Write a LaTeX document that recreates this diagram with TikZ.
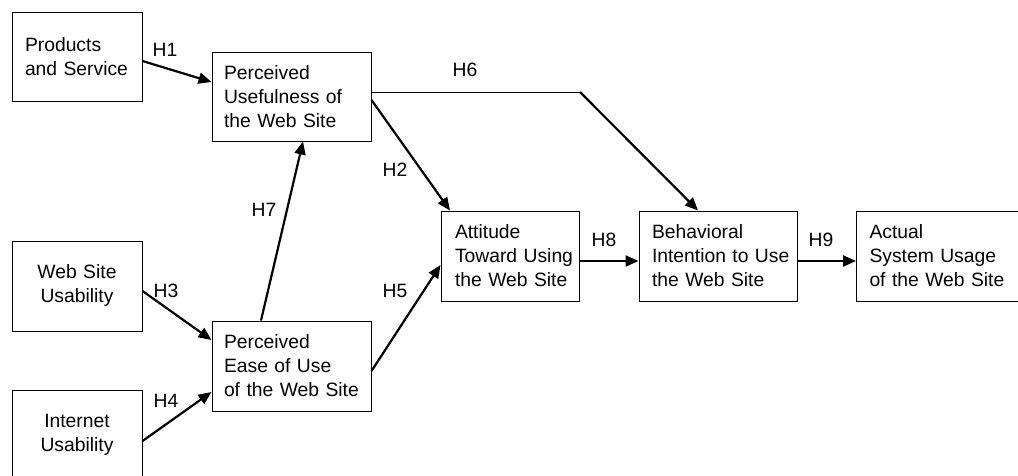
\documentclass[tikz,border=0pt]{standalone}
\usepackage{fontspec}
\setmainfont{Liberation Sans}
\usetikzlibrary{arrows.meta}
\tikzset{
  box/.style={draw, line width=1pt, rectangle, inner ysep=0pt,
    font=\fontsize{19.3}{24}\selectfont},
  lbox/.style={box, align=left},
  cbox/.style={box, align=center},
  arr/.style={line width=2.2pt, -{Triangle[length=13pt,width=11pt]}},
  thin/.style={line width=1pt},
  hlab/.style={font=\fontsize{19.3}{24}\selectfont, inner sep=0pt}
}
\begin{document}
\begin{tikzpicture}[x=1pt,y=-1pt]
\useasboundingbox (0,0) rectangle (1018,475);
\clip (0,0) rectangle (1018,475);
% boxes
\node[lbox, minimum width=130pt, minimum height=89pt, inner xsep=13pt, text width=104pt] (PS) at (77,56.5) {Products\\\mbox{and Service}};
\node[lbox, minimum width=159pt, minimum height=89pt, inner xsep=12pt, text width=135pt] (PU) at (291.5,96.5) {Perceived\\\mbox{Usefulness of}\\\mbox{the Web Site}};
\node[cbox, minimum width=130pt, minimum height=90pt, text width=110pt] (WSU) at (77,286) {Web Site\\Usability};
\node[cbox, minimum width=130pt, minimum height=90pt, text width=110pt] (IU) at (77,435) {Internet\\Usability};
\node[lbox, minimum width=159pt, minimum height=90pt, inner xsep=12pt, text width=135pt] (PEOU) at (291.5,366) {Perceived\\\mbox{Ease of Use}\\\mbox{of the Web Site}};
\node[lbox, minimum width=138pt, minimum height=90pt, inner xsep=14pt, text width=110pt] (ATT) at (510,256) {Attitude\\\mbox{Toward Using}\\\mbox{the Web Site}};
\node[lbox, minimum width=158pt, minimum height=90pt, inner xsep=13pt, text width=132pt] (BI) at (718,256) {Behavioral\\\mbox{Intention to Use}\\\mbox{the Web Site}};
\node[lbox, minimum width=174pt, minimum height=90pt, inner xsep=13pt, text width=148pt, anchor=west] (ASU) at (856,256) {Actual\\\mbox{System Usage}\\\mbox{of the Web Site}};
% connectors
\draw[arr] ([yshift=-4.5pt]PS.east) -- ([yshift=14.5pt]PU.west);
\coordinate (bend) at (580,92);
\draw[thin] ([yshift=4.5pt]PU.east) -- (bend);
\draw[arr] (bend) -- ([xshift=-20pt]BI.north);
\draw[arr] ([yshift=-3.5pt]PU.east) -- ([xshift=-60pt]ATT.north);
\draw[arr] ([xshift=-30.5pt]PEOU.north) -- ([xshift=11.5pt]PU.south);
\draw[arr] ([yshift=-5pt]WSU.east) -- ([yshift=26pt]PEOU.west);
\draw[arr] ([yshift=-6pt]IU.east) -- ([yshift=-26pt]PEOU.west);
\draw[arr] ([yshift=-5pt]PEOU.east) -- ([yshift=-9pt]ATT.west);
\draw[arr] ([yshift=-5pt]ATT.east) -- ([yshift=-5pt]BI.west);
\draw[arr] ([yshift=-5pt]BI.east) -- ([yshift=-5pt]ASU.west);
% labels
\node[hlab] (l1) at (165,50) {H1};
\node[hlab] (l6) at (465,70) {H6};
\node[hlab] (l2) at (395,170) {H2};
\node[hlab] (l7) at (264,210) {H7};
\node[hlab] (l3) at (166,291) {H3};
\node[hlab] (l5) at (395,291) {H5};
\node[hlab] (l4) at (166,401) {H4};
\node[hlab] (l8) at (604,240) {H8};
\node[hlab] (l9) at (821,240) {H9};
\end{tikzpicture}
\end{document}
